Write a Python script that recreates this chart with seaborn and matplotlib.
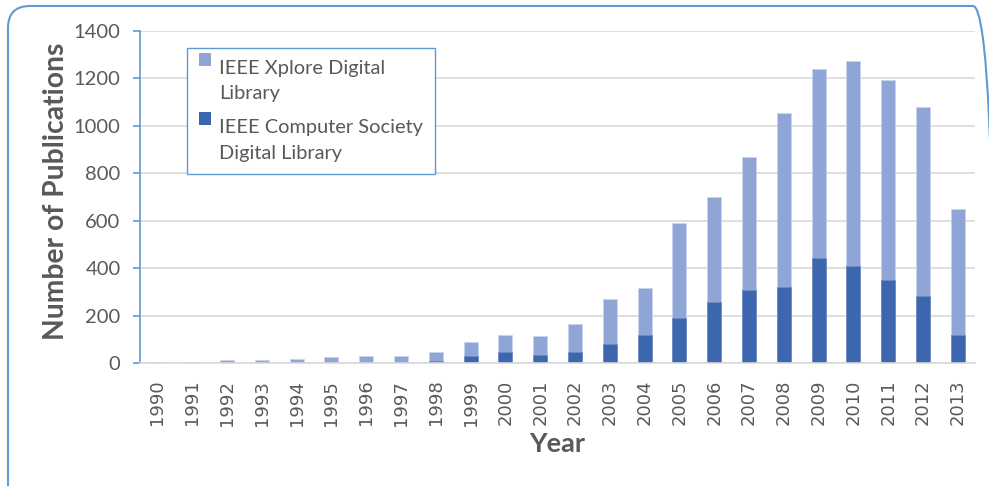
import matplotlib
matplotlib.use("Agg")
import matplotlib.pyplot as plt
import seaborn as sns
import pandas as pd
from matplotlib.patches import FancyBboxPatch, Patch, Rectangle
from matplotlib.legend_handler import HandlerPatch

years = [str(y) for y in range(1990, 2014)]
computer_society = [0, 0, 0, 0, 0, 0, 0, 0, 9, 30, 48, 35, 48, 80, 120,
                    191, 259, 309, 321, 442, 410, 351, 284, 120]
xplore_total = [4, 5, 13, 12, 16, 24, 30, 29, 48, 90, 118, 115, 165, 269, 316,
                591, 700, 869, 1055, 1238, 1275, 1192, 1078, 648]
xplore_extra = [t - c for t, c in zip(xplore_total, computer_society)]

LIGHT = "#8FA5D6"
DARK = "#3C66AE"
TEXT = "#595959"
BLUE_LINE = "#5B9BD5"

sns.set_theme(style="white")
plt.rcParams["font.family"] = ["Lato", "DejaVu Sans"]

df = pd.DataFrame({"Year": years, "cs": computer_society,
                   "total": xplore_total, "extra": xplore_extra})

fig = plt.figure(figsize=(9.89, 4.86), dpi=100)
ax = fig.add_axes([0.1416, 0.2531, 0.8444, 0.6831])

# stacked bars: Computer Society at the base, remaining Xplore on top
sns.barplot(data=df, x="Year", y="total", color=LIGHT, width=0.4,
            edgecolor="#C9D4EE", linewidth=0.6, saturation=1, ax=ax)
sns.barplot(data=df, x="Year", y="cs", color=DARK, width=0.4,
            edgecolor="#6F8CC4", linewidth=0.6, saturation=1, ax=ax)

ax.set_ylim(0, 1400)
ax.set_xlim(-0.5, len(years) - 0.5)
ax.set_yticks(range(0, 1401, 200))
ax.yaxis.grid(True, color="#D9D9D9", linewidth=1.2)
ax.set_axisbelow(True)

for s in ["top", "right"]:
    ax.spines[s].set_visible(False)
ax.spines["left"].set_color(BLUE_LINE)
ax.spines["left"].set_linewidth(1.2)
ax.spines["bottom"].set_color("#D9D9D9")
ax.spines["bottom"].set_linewidth(1.2)

ax.tick_params(axis="y", which="major", left=True, length=5, width=1.2,
               color=BLUE_LINE, labelsize=14.5, labelcolor=TEXT, pad=9)
ax.tick_params(axis="x", bottom=False, labelcolor=TEXT, rotation=90, pad=6)
for lab in ax.get_xticklabels():
    lab.set_fontfamily("DejaVu Sans")
    lab.set_fontsize(13)

ax.set_xlabel("Year", fontsize=19.5, fontweight="bold", color=TEXT, labelpad=5)
ax.set_ylabel("Number of Publications", fontsize=20.3, fontweight="bold",
              color=TEXT)
ax.yaxis.set_label_coords(-0.085, 0.518)


class TopSquare(HandlerPatch):
    """Square legend key placed beside the first line of a two-line label."""
    shift = 15.5

    def create_artists(self, legend, orig_handle, xdescent, ydescent,
                       width, height, fontsize, trans):
        p = Rectangle((-xdescent, -ydescent + self.shift), width, height,
                      facecolor=orig_handle.get_facecolor(), edgecolor="none",
                      transform=trans)
        return [p]


handles = [Patch(facecolor=LIGHT, edgecolor="none"),
           Patch(facecolor=DARK, edgecolor="none")]
leg = ax.legend(handles, ["IEEE Xplore Digital\nLibrary",
                          "IEEE Computer Society\nDigital Library"],
                loc="upper left", bbox_to_anchor=(0.0563, 0.949),
                borderaxespad=0, fontsize=14.4, frameon=True, fancybox=False,
                handlelength=0.62, handleheight=0.62, handletextpad=0.38,
                labelspacing=0.85, borderpad=0.6, labelcolor=TEXT,
                handler_map={Patch: TopSquare()})
leg.get_frame().set_edgecolor(BLUE_LINE)
leg.get_frame().set_linewidth(1.0)
leg.get_frame().set_facecolor("white")
leg.get_frame().set_alpha(1)
for t in leg.get_texts():
    t.set_linespacing(1.6)

# rounded outer frame
frame = FancyBboxPatch((8 / 100, -0.2), 9.95 - 0.08, 4.86 - 0.06 + 0.2,
                       boxstyle="round,pad=0,rounding_size=0.22",
                       transform=fig.dpi_scale_trans, facecolor="none",
                       edgecolor=BLUE_LINE, linewidth=1.5, clip_on=False)
fig.patches.append(frame)

fig.savefig("out.png", dpi=100)
